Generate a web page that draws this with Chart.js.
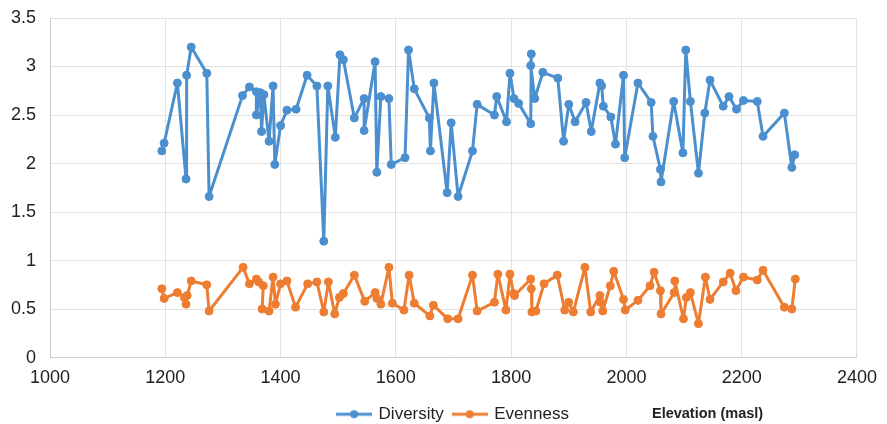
<!DOCTYPE html>
<html>
<head>
<meta charset="utf-8">
<script src="https://cdn.jsdelivr.net/npm/chart.js@4/dist/chart.umd.min.js"></script>
<style>
  html, body { margin: 0; padding: 0; background: #ffffff; }
  #chart { display: block; }
</style>
</head>
<body>
<canvas id="chart" width="887" height="424"></canvas>
<script>
// Sampling sites: elevation (masl) and the diversity / evenness index at each site
const diversityElevation = [
  1194, 1198, 1221, 1236, 1237, 1245, 1272, 1276, 1334, 1346,
  1358, 1358, 1365, 1367, 1371, 1380, 1387, 1390, 1400, 1411,
  1427, 1446, 1463, 1475, 1482, 1495, 1503, 1509, 1528, 1545,
  1545, 1564, 1567, 1574, 1588, 1592, 1616, 1622, 1632, 1658,
  1660, 1666, 1689, 1696, 1708, 1733, 1741, 1771, 1775, 1792,
  1798, 1805, 1813, 1834, 1835, 1834, 1841, 1855, 1881, 1891,
  1900, 1911, 1930, 1939, 1954, 1957, 1960, 1973, 1981, 1995,
  1997, 2020, 2043, 2046, 2059, 2060, 2082, 2098, 2103, 2111,
  2125, 2136, 2145, 2168, 2178, 2191, 2203, 2227, 2237, 2274,
  2287, 2292
];
const diversity = [
  2.13, 2.21, 2.83, 1.84, 2.91, 3.20, 2.93, 1.66, 2.70, 2.79,
  2.74, 2.50, 2.73, 2.33, 2.71, 2.23, 2.80, 1.99, 2.39, 2.55,
  2.56, 2.91, 2.80, 1.20, 2.80, 2.27, 3.12, 3.07, 2.47, 2.67,
  2.34, 3.05, 1.91, 2.69, 2.67, 1.99, 2.06, 3.17, 2.77, 2.47,
  2.13, 2.83, 1.70, 2.42, 1.66, 2.13, 2.61, 2.50, 2.69, 2.43,
  2.93, 2.67, 2.62, 2.41, 3.13, 3.01, 2.67, 2.94, 2.88, 2.23,
  2.61, 2.43, 2.63, 2.33, 2.83, 2.80, 2.59, 2.48, 2.20, 2.91,
  2.06, 2.83, 2.63, 2.28, 1.94, 1.81, 2.64, 2.11, 3.17, 2.64,
  1.90, 2.52, 2.86, 2.59, 2.69, 2.56, 2.65, 2.64, 2.28, 2.52,
  1.96, 2.09
];

const evennessElevation = [
  1194, 1198, 1221, 1233, 1236, 1238, 1245, 1272, 1276, 1335,
  1346, 1358, 1362, 1370, 1368, 1380, 1387, 1391, 1400, 1411,
  1426, 1447, 1463, 1475, 1483, 1494, 1502, 1509, 1528, 1546,
  1564, 1567, 1574, 1588, 1594, 1614, 1623, 1632, 1659, 1665,
  1690, 1708, 1733, 1741, 1771, 1777, 1791, 1798, 1804, 1806,
  1834, 1835, 1836, 1843, 1857, 1880, 1893, 1900, 1908, 1928,
  1938, 1954, 1955, 1959, 1972, 1978, 1995, 1998, 2020, 2041,
  2048, 2059, 2060, 2083, 2084, 2099, 2104, 2111, 2125, 2137,
  2145, 2168, 2180, 2190, 2203, 2227, 2237, 2274, 2287, 2293
];
const evenness = [
  0.71, 0.61, 0.67, 0.62, 0.55, 0.64, 0.79, 0.75, 0.48, 0.93,
  0.76, 0.81, 0.78, 0.74, 0.50, 0.48, 0.83, 0.55, 0.76, 0.79,
  0.52, 0.76, 0.78, 0.47, 0.78, 0.45, 0.62, 0.66, 0.85, 0.58,
  0.67, 0.61, 0.55, 0.93, 0.56, 0.49, 0.85, 0.56, 0.43, 0.54,
  0.40, 0.40, 0.85, 0.48, 0.57, 0.86, 0.49, 0.86, 0.66, 0.64,
  0.81, 0.71, 0.47, 0.48, 0.76, 0.85, 0.49, 0.57, 0.47, 0.93,
  0.47, 0.64, 0.57, 0.48, 0.74, 0.89, 0.60, 0.49, 0.59, 0.74,
  0.88, 0.69, 0.45, 0.67, 0.79, 0.40, 0.62, 0.67, 0.35, 0.83,
  0.60, 0.78, 0.87, 0.69, 0.83, 0.80, 0.90, 0.52, 0.50, 0.81
];

const seriesNames = ['Diversity', 'Evenness'];
const axisTitle = 'Elevation (masl)';

const BLUE = '#4b8fcf';
const ORANGE = '#ee7d31';
const FONT = '"Liberation Sans", Arial, Helvetica, sans-serif';
const TEXT = '#222222';

function toPoints(xs, ys) {
  return xs.map((x, i) => ({ x: x, y: ys[i] }));
}

// Legend swatch: short line with a dot in the middle
function swatch(color) {
  const c = document.createElement('canvas');
  c.width = 36; c.height = 10;
  const g = c.getContext('2d');
  g.strokeStyle = color; g.lineWidth = 3;
  g.beginPath(); g.moveTo(0, 5); g.lineTo(36, 5); g.stroke();
  g.fillStyle = color;
  g.beginPath(); g.arc(18, 5, 4, 0, Math.PI * 2); g.fill();
  return c;
}
const swatches = [swatch(BLUE), swatch(ORANGE)];

// Axis caption drawn on the legend row, to the right of the legend entries
const axisCaption = {
  id: 'axisCaption',
  afterDraw(chart) {
    const legend = chart.legend;
    const box = legend.legendHitBoxes[0];
    const y = box.top + box.height / 2;
    const ctx = chart.ctx;
    ctx.save();
    ctx.font = 'bold 14.5px ' + FONT;
    ctx.fillStyle = TEXT;
    ctx.textBaseline = 'middle';
    ctx.textAlign = 'left';
    ctx.fillText(axisTitle, chart.chartArea.right - 205, y);
    ctx.restore();
  }
};

const lineStyle = (color) => ({
  borderColor: color,
  backgroundColor: color,
  borderWidth: 3,
  borderJoinStyle: 'round',
  borderCapStyle: 'round',
  pointRadius: 4,
  pointHoverRadius: 4,
  pointBorderWidth: 1,
  pointBackgroundColor: color,
  pointBorderColor: color,
  pointStyle: 'circle',
  showLine: true,
  tension: 0
});

new Chart(document.getElementById('chart'), {
  type: 'scatter',
  data: {
    datasets: [
      Object.assign({ label: seriesNames[0], data: toPoints(diversityElevation, diversity) }, lineStyle(BLUE)),
      Object.assign({ label: seriesNames[1], data: toPoints(evennessElevation, evenness) }, lineStyle(ORANGE))
    ]
  },
  options: {
    responsive: false,
    animation: false,
    layout: { padding: { top: 18, right: 27, bottom: -8.7, left: 0 } },
    scales: {
      x: {
        type: 'linear',
        min: 1000,
        max: 2400,
        afterFit: (s) => { s.height -= 3.5; },
        ticks: {
          stepSize: 200,
          padding: 10,
          color: TEXT,
          font: { family: FONT, size: 18 },
          maxRotation: 0,
          callback: (v) => String(v)
        },
        grid: { color: '#e2e2e2', lineWidth: 1, drawTicks: false },
        border: { color: '#cccccc', width: 1 }
      },
      y: {
        min: 0,
        max: 3.5,
        afterFit: (s) => { s.width = 50; s.paddingTop = 0; s.paddingBottom = 0; },
        ticks: {
          stepSize: 0.5,
          padding: 14,
          color: TEXT,
          font: { family: FONT, size: 18 },
          callback: (v) => String(v)
        },
        grid: { color: '#e2e2e2', lineWidth: 1, drawTicks: false },
        border: { color: '#cccccc', width: 1 }
      }
    },
    plugins: {
      legend: {
        position: 'bottom',
        fullSize: false,
        labels: {
          usePointStyle: true,
          pointStyleWidth: 32,
          padding: 10,
          color: TEXT,
          font: { family: FONT, size: 17 },
          generateLabels(chart) {
            const items = Chart.defaults.plugins.legend.labels.generateLabels(chart);
            items.forEach((it, i) => { it.pointStyle = swatches[i]; });
            return items;
          }
        }
      },
      tooltip: { enabled: false }
    }
  },
  plugins: [axisCaption]
});
</script>
</body>
</html>
